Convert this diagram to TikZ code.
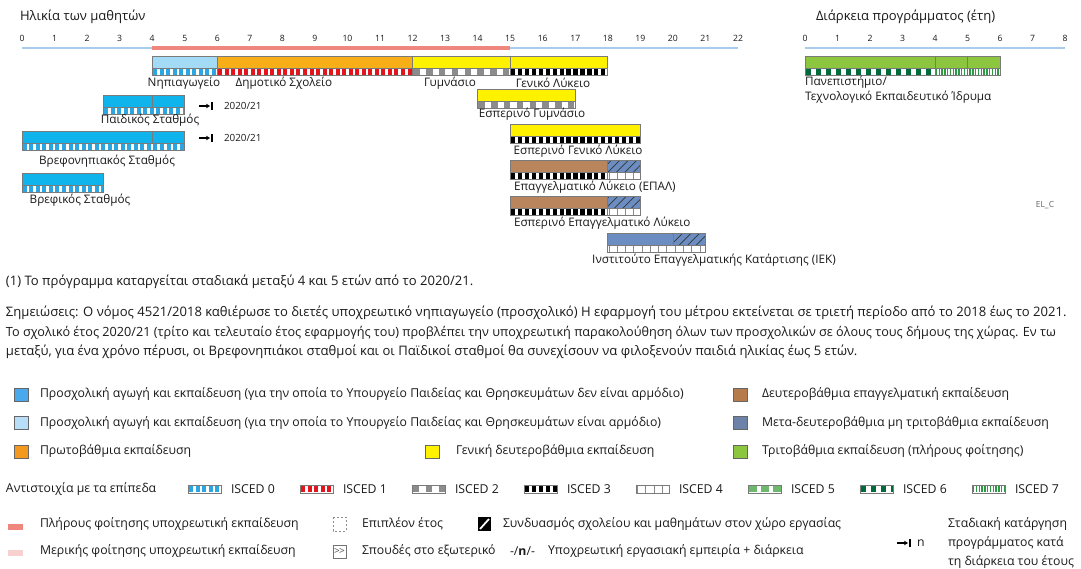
\documentclass[tikz,border=0pt]{standalone}
\usepackage{fontspec}
\setmainfont{Open Sans}
\usetikzlibrary{patterns.meta,arrows.meta}
\definecolor{axblue}{HTML}{A9CBEE}
\definecolor{compred}{HTML}{F0877E}
\definecolor{comppink}{HTML}{F9CFCF}
\definecolor{nipcol}{HTML}{A3DAF6}
\definecolor{ecec}{HTML}{10B4EC}
\definecolor{prim}{HTML}{F8AE17}
\definecolor{genyel}{HTML}{FFF200}
\definecolor{voc}{HTML}{B8855C}
\definecolor{slate}{HTML}{6C8DC2}
\definecolor{tert}{HTML}{8CC63F}
\definecolor{bargray}{HTML}{7A7A7A}
\definecolor{iA}{HTML}{2BA6E0}
\definecolor{iB}{HTML}{E3141C}
\definecolor{iC}{HTML}{8C8C8C}
\definecolor{iE}{HTML}{8A8A8A}
\definecolor{iF}{HTML}{6DB86D}
\definecolor{iG}{HTML}{006B3A}
\definecolor{iH}{HTML}{2C9A44}
\definecolor{legblue}{HTML}{4AA8EC}
\definecolor{leglight}{HTML}{B7DDF9}
\definecolor{legorange}{HTML}{F39A1E}
\definecolor{legbrown}{HTML}{B57B4A}
\definecolor{legslate}{HTML}{6D82A8}
\definecolor{txt}{HTML}{1A1A1A}
\tikzset{
  tick/.style={font=\fontsize{6.5}{7}\selectfont, text=txt},
  lbl/.style={font=\fontsize{8.8}{9}\selectfont, text=txt},
  small/.style={font=\fontsize{7.4}{8}\selectfont, text=txt},
  body/.style={font=\fontsize{9.8}{10}\selectfont, text=txt, anchor=west},
  leg/.style={font=\fontsize{9.2}{10}\selectfont, text=txt, anchor=west},
  i0/.style={line width=4.5pt, dash pattern=on 3pt off 1.9pt, draw=iA},
  i1/.style={line width=4.5pt, dash pattern=on 3pt off 1.9pt, draw=iB},
  i2/.style={line width=4.5pt, dash pattern=on 4.8pt off 4.8pt, draw=iC},
  i3/.style={line width=4.5pt, dash pattern=on 3.2pt off 2pt, draw=black},
  i4/.style={line width=5.25pt, dash pattern=on 0.6pt off 5.6pt, draw=iE},
  i5/.style={line width=4.5pt, dash pattern=on 6pt off 3pt, draw=iF},
  i6/.style={line width=4.5pt, dash pattern=on 4pt off 3.5pt, draw=iG},
  i7/.style={line width=4.5pt, dash pattern=on 1pt off 1.1pt, draw=iH},
  hatch/.style={pattern={Lines[angle=45,distance=4.5pt,line width=0.5pt]}, pattern color=black!80},
  legsq/.style={draw=black!60, line width=0.6pt},
}
\newcommand\colbox[4]{\path[draw=bargray, fill=#4, line width=0.6pt] (#1,#3) rectangle (#2,#3+12);}
\newcommand\hatchbox[3]{\path[draw=bargray, fill=slate, line width=0.6pt] (#1,#3) rectangle (#2,#3+12);
  \path[hatch] (#1,#3) rectangle (#2,#3+12);
  \path[draw=bargray, line width=0.6pt] (#1,#3) rectangle (#2,#3+12);}
\newcommand\stripx[4]{\fill[white] (#1,#3) rectangle (#2,#3+7);
  \begin{scope}\clip (#1,#3) rectangle (#2,#3+7);
  \draw[#4] (#1+0.8,#3+3.5) -- (#2,#3+3.5);\end{scope}
  \draw[bargray, line width=0.6pt] (#1,#3) rectangle (#2,#3+7);}
\newcommand\isw[2]{\fill[white] (#1,485) rectangle (#1+33,493);
  \begin{scope}\clip (#1,485) rectangle (#1+33,493);
  \draw[#2] (#1+1,489) -- (#1+33,489);\end{scope}
  \draw[bargray, line width=0.6pt] (#1,485) rectangle (#1+33,493);}
\newcommand\phase[2]{\draw[-{Stealth[length=3pt,width=3.5pt]}, line width=0.8pt] (#1,#2) -- (#1+11,#2);
  \draw[line width=1.3pt] (#1+13,#2-4) -- (#1+13,#2+4);}
\begin{document}
\begin{tikzpicture}[x=0.75pt,y=-0.75pt, every node/.style={inner sep=0pt, outer sep=0pt}]
\useasboundingbox (0,0) rectangle (1081,568);
\fill[white] (0,0) rectangle (1081,568);
% titles
\node[anchor=west, font=\fontsize{9.8}{10}\selectfont, text=txt] (tage) at (20,17) {Ηλικία των μαθητών};
\node[anchor=west, font=\fontsize{9.8}{10}\selectfont, text=txt] (tdur) at (816,17) {Διάρκεια προγράμματος (έτη)};
% axes
\foreach \i in {0,...,22} \node[tick] (a\i) at ({22+32.545*\i},38) {\i};
\foreach \i in {0,...,8} \node[tick] (d\i) at ({805+32.5*\i},38) {\i};
\draw[axblue, line width=1.5pt] (22,48) -- (738,48);
\draw[compred, line width=3pt] (152.18,47.5) -- (510.18,47.5);
\draw[axblue, line width=1.5pt] (805,48) -- (1065,48);
% row 1
\colbox{152.18}{217.27}{56}{nipcol}\stripx{152.18}{217.27}{68}{i0}
\colbox{217.27}{412.54}{56}{prim}\stripx{217.27}{412.54}{68}{i1}
\colbox{412.54}{510.18}{56}{genyel}\stripx{412.54}{510.18}{68}{i2}
\colbox{510.18}{607.81}{56}{genyel}\stripx{510.18}{607.81}{68}{i3}
\node[lbl] (lnip) at (184,83) {Νηπιαγωγείο};
\node[lbl] (ldim) at (284,83) {Δημοτικό Σχολείο};
\node[lbl] (lgym) at (450,83) {Γυμνάσιο};
\node[lbl] (llyk) at (553,83) {Γενικό Λύκειο};
% tertiary
\colbox{805}{935}{56}{tert}\colbox{935}{967.5}{56}{tert}\colbox{967.5}{1000}{56}{tert}
\stripx{805}{935}{68}{i6}\stripx{935}{1000}{68}{i7}
\node[lbl, anchor=west] (luni1) at (805,82) {Πανεπιστήμιο/};
\node[lbl, anchor=west] (luni2) at (805,97) {Τεχνολογικό Εκπαιδευτικό Ίδρυμα};
% paidikos
\colbox{103.36}{152.18}{95}{ecec}\colbox{152.18}{184.73}{95}{ecec}\stripx{103.36}{184.73}{107}{i0}
\node[lbl] (lpaid) at (150,120) {Παιδικός Σταθμός};
\phase{199}{106}
\node[small, anchor=west] (ypaid) at (224,106) {2020/21};
% esperino gymnasio
\colbox{477.63}{575.27}{89}{genyel}\stripx{477.63}{575.27}{101}{i2}
\node[lbl] (legym) at (532,114) {Εσπερινό Γυμνάσιο};
% vrefonipiakos
\colbox{22}{152.18}{131}{ecec}\colbox{152.18}{184.73}{131}{ecec}\stripx{22}{184.73}{143}{i0}
\node[lbl] (lvrn) at (107,161) {Βρεφονηπιακός Σταθμός};
\phase{199}{138}
\node[small, anchor=west] (yvrn) at (224,138) {2020/21};
% esperino geniko lykeio
\colbox{510.18}{640.36}{124}{genyel}\stripx{510.18}{640.36}{136}{i3}
\node[lbl] (legl) at (578,151) {Εσπερινό Γενικό Λύκειο};
% vrefikos
\colbox{22}{103.36}{173}{ecec}\stripx{22}{103.36}{185}{i0}
\node[lbl] (lvref) at (80,200) {Βρεφικός Σταθμός};
% EPAL
\colbox{510.18}{607.81}{160}{voc}\hatchbox{607.81}{640.36}{160}
\stripx{510.18}{607.81}{172}{i3}\stripx{607.81}{640.36}{172}{i4}
\node[lbl, anchor=west] (lepal) at (514,187) {Επαγγελματικό Λύκειο (ΕΠΑΛ)};
% Esperino EPAL
\colbox{510.18}{607.81}{196}{voc}\hatchbox{607.81}{640.36}{196}
\stripx{510.18}{607.81}{208}{i3}\stripx{607.81}{640.36}{208}{i4}
\node[lbl, anchor=west] (leepal) at (514,223) {Εσπερινό Επαγγελματικό Λύκειο};
% IEK
\colbox{607.81}{672.9}{233}{slate}\hatchbox{672.9}{705.45}{233}
\stripx{607.81}{705.45}{245}{i4}
\node[lbl] (liek) at (714,260) {Ινστιτούτο Επαγγελματικής Κατάρτισης (ΙΕΚ)};
\node[font=\fontsize{6.3}{7}\selectfont, text=black!60] (elc) at (1045,205) {EL\_C};
% footnote & notes
\node[body] (fn) at (6,282) {(1) Το πρόγραμμα καταργείται σταδιακά μεταξύ 4 και 5 ετών από το 2020/21.};
\node[body] (n1) at (6,313) {Σημειώσεις: Ο νόμος 4521/2018 καθιέρωσε το διετές υποχρεωτικό νηπιαγωγείο (προσχολικό) Η εφαρμογή του μέτρου εκτείνεται σε τριετή περίοδο από το 2018 έως το 2021.};
\node[body, font=\fontsize{9.5}{10}\selectfont] (n2) at (6,333) {Το σχολικό έτος 2020/21 (τρίτο και τελευταίο έτος εφαρμογής του) προβλέπει την υποχρεωτική παρακολούθηση όλων των προσχολικών σε όλους τους δήμους της χώρας. Εν τω};
\node[body] (n3) at (6,352) {μεταξύ, για ένα χρόνο πέρυσι, οι Βρεφονηπιάκοι σταθμοί και οι Παϊδικοί σταθμοί θα συνεχίσουν να φιλοξενούν παιδιά ηλικίας έως 5 ετών.};
% colour legend
\fill[legblue, legsq] (14,388) rectangle (28,401);
\node[leg] (lg1) at (40,394) {Προσχολική αγωγή και εκπαίδευση (για την οποία το Υπουργείο Παιδείας και Θρησκευμάτων δεν είναι αρμόδιο)};
\fill[leglight, legsq] (14,416) rectangle (28,429);
\node[leg] (lg2) at (40,423) {Προσχολική αγωγή και εκπαίδευση (για την οποία το Υπουργείο Παιδείας και Θρησκευμάτων είναι αρμόδιο)};
\fill[legorange, legsq] (14,445) rectangle (28,458);
\node[leg] (lg3) at (40,451) {Πρωτοβάθμια εκπαίδευση};
\fill[genyel, legsq] (425,445) rectangle (439,458);
\node[leg] (lg4) at (456,451) {Γενική δευτεροβάθμια εκπαίδευση};
\fill[legbrown, legsq] (733,388) rectangle (747,401);
\node[leg] (lg5) at (762,394) {Δευτεροβάθμια επαγγελματική εκπαίδευση};
\fill[legslate, legsq] (733,416) rectangle (747,429);
\node[leg] (lg6) at (762,423) {Μετα-δευτεροβάθμια μη τριτοβάθμια εκπαίδευση};
\fill[tert, legsq] (733,445) rectangle (747,458);
\node[leg] (lg7) at (762,451) {Τριτοβάθμια εκπαίδευση (πλήρους φοίτησης)};
% ISCED legend
\node[leg] (liscd) at (6,489) {Αντιστοιχία με τα επίπεδα};
\isw{188}{i0}\node[leg] (is0) at (231,489) {ISCED 0};
\isw{300}{i1}\node[leg] (is1) at (343,489) {ISCED 1};
\isw{412}{i2}\node[leg] (is2) at (455,489) {ISCED 2};
\isw{524}{i3}\node[leg] (is3) at (567,489) {ISCED 3};
\isw{636}{i4}\node[leg] (is4) at (679,489) {ISCED 4};
\isw{748}{i5}\node[leg] (is5) at (791,489) {ISCED 5};
\isw{860}{i6}\node[leg] (is6) at (903,489) {ISCED 6};
\isw{972}{i7}\node[leg] (is7) at (1015,489) {ISCED 7};
% bottom legend
\draw[compred, line width=4pt] (8,527) -- (23,527);
\node[leg] (lfull) at (40,524) {Πλήρους φοίτησης υποχρεωτική εκπαίδευση};
\draw[comppink, line width=4pt] (8,553) -- (23,553);
\node[leg] (lpart) at (40,551) {Μερικής φοίτησης υποχρεωτική εκπαίδευση};
\draw[black!45, line width=0.5pt, dash pattern=on 1.5pt off 1.5pt] (333,517) rectangle (346,531);
\node[leg] (lext) at (362,524) {Επιπλέον έτος};
\draw[black!55, line width=0.5pt] (333,545) rectangle (346,558);
\node[font=\fontsize{7.5}{7.5}\selectfont, text=black!70] (labr) at (339.5,551) {\textgreater\kern-0.5pt\textgreater};
\node[leg] (lstud) at (362,551) {Σπουδές στο εξωτερικό};
\fill[black] (478,517) rectangle (491,531);
\draw[white, line width=1.3pt] (480,529) -- (489,519);
\node[leg] (lcomb) at (503,524) {Συνδυασμός σχολείου και μαθημάτων στον χώρο εργασίας};
\node[leg] (lnn) at (510,551) {-/\textbf{n}/-};
\node[leg] (lwork) at (548,551) {Υποχρεωτική εργασιακή εμπειρία + διάρκεια};
\phase{897}{543}
\node[leg] (ln) at (917,543) {n};
\node[leg] (lph1) at (948,524) {Σταδιακή κατάργηση};
\node[leg] (lph2) at (948,543) {προγράμματος κατά};
\node[leg] (lph3) at (948,562) {τη διάρκεια του έτους};
\end{tikzpicture}
\end{document}
